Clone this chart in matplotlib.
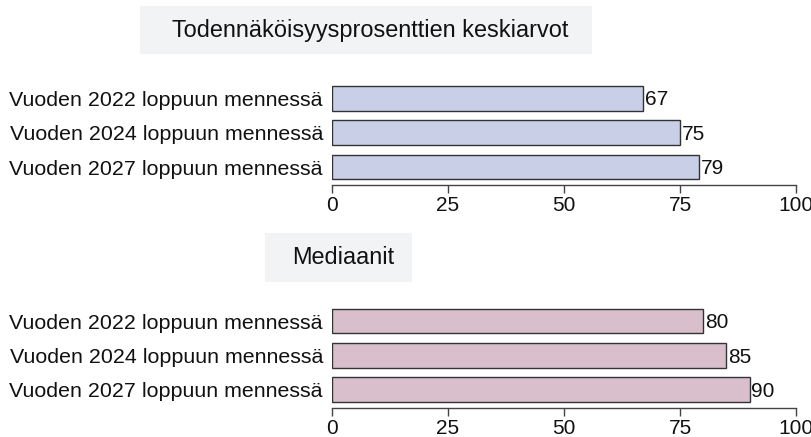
import matplotlib.pyplot as plt
from matplotlib.patches import Rectangle

# ==============================
# DATA
# ==============================
categories = ["Vuoden 2022 loppuun mennessä",
              "Vuoden 2024 loppuun mennessä",
              "Vuoden 2027 loppuun mennessä"]
means = [67, 75, 79]
medians = [80, 85, 90]
titles = ["Todennäköisyysprosenttien keskiarvot", "Mediaanit"]
xticks = [0, 25, 50, 75, 100]

plt.rcParams['font.family'] = ['Liberation Sans', 'DejaVu Sans']

W, H = 811, 437
fig = plt.figure(figsize=(W / 100, H / 100), dpi=100)


def px_axes(left, top, right, bottom):
    # pixel box (from top-left) -> figure fraction
    return [left / W, 1 - bottom / H, (right - left) / W, (bottom - top) / H]


def title_box(text, x0, y0, x1, y1, tx):
    fig.patches.append(Rectangle((x0 / W, 1 - y1 / H), (x1 - x0) / W, (y1 - y0) / H,
                                 transform=fig.transFigure, facecolor="#f2f3f5",
                                 edgecolor="none", zorder=0))
    fig.text(tx / W, 1 - ((y0 + y1) / 2) / H, text, ha="left", va="center",
             fontsize=16.9, color="#111111")


def panel(ax, values, color):
    y = list(range(len(categories)))
    ax.barh(y, values, height=0.72, color=color, edgecolor="#333333", linewidth=1)
    for yi, v in zip(y, values):
        ax.text(v + 0.4, yi + 0.05, str(v), va="center", ha="left", fontsize=15,
                color="#111111")
    ax.set_xlim(0, 100)
    ax.set_ylim(len(categories) - 0.48, -0.5)
    ax.set_yticks(y)
    ax.set_yticklabels(categories, fontsize=15.4, color="#111111")
    ax.set_xticks(xticks)
    ax.set_xticklabels([str(t) for t in xticks], fontsize=15, color="#111111")
    ax.tick_params(axis="y", length=0, pad=6.5)
    ax.tick_params(axis="x", length=6, width=1, color="#444444", pad=2)
    for s in ["top", "right", "left"]:
        ax.spines[s].set_visible(False)
    ax.spines["bottom"].set_color("#444444")
    ax.spines["bottom"].set_linewidth(1)
    ax.spines["bottom"].set_bounds(0, 100)
    ax.patch.set_alpha(0)


# ==============================
# TOP PANEL
# ==============================
title_box(titles[0], 140, 6, 592, 54, 172)
ax1 = fig.add_axes(px_axes(332, 81, 796, 185))
panel(ax1, means, "#c8cfe6")

# ==============================
# BOTTOM PANEL
# ==============================
title_box(titles[1], 265, 233, 412, 282, 292)
ax2 = fig.add_axes(px_axes(332, 304, 796, 407.5))
panel(ax2, medians, "#d8bfcb")

fig.savefig("out.png", dpi=100)
